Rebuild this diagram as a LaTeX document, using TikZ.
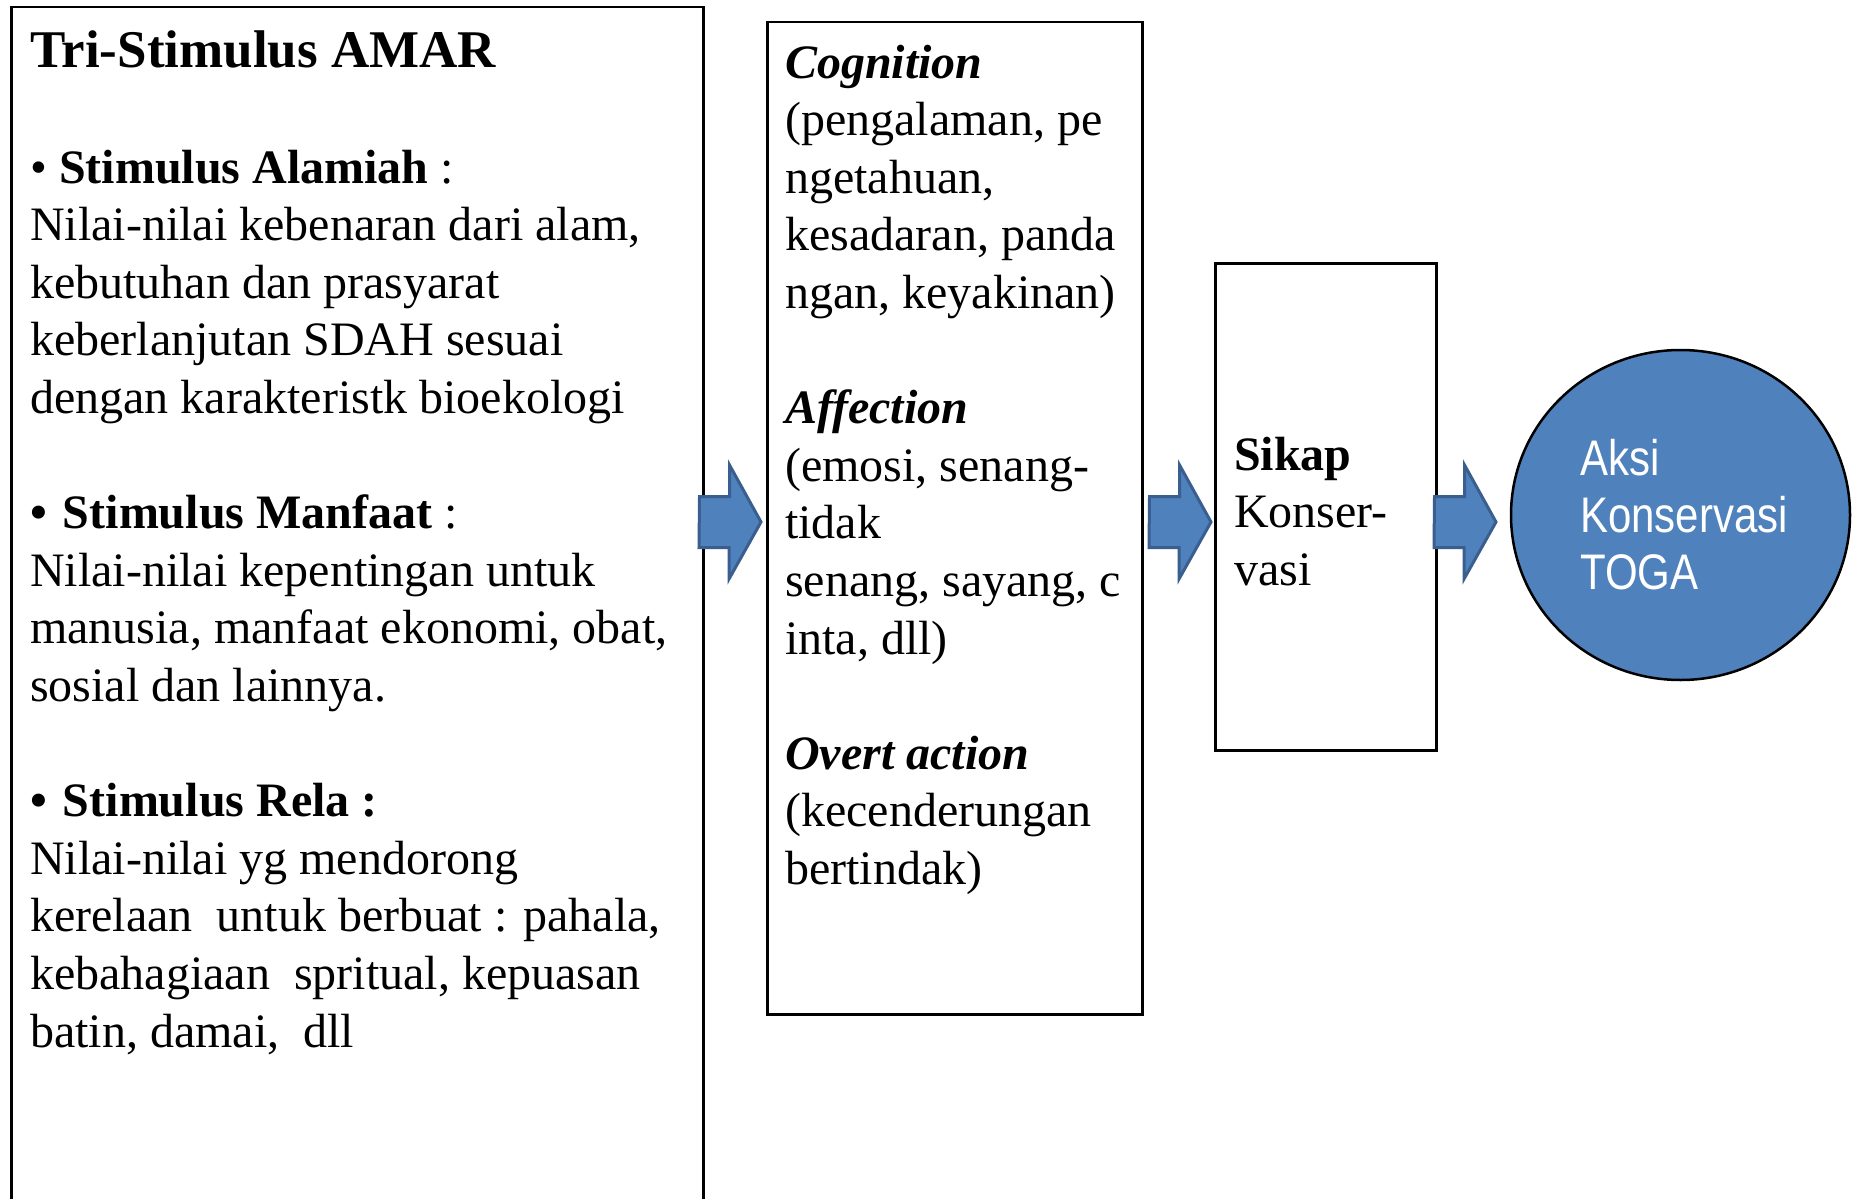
\documentclass[tikz,border=0pt]{standalone}
\usepackage{fontspec}
\setmainfont{Liberation Serif}
\newfontfamily\narrowsans[FakeStretch=0.84]{Liberation Sans}
\usetikzlibrary{shapes.geometric}
\definecolor{officeblue}{HTML}{4F81BD}
\definecolor{officeedge}{HTML}{3A5F8F}
\newcommand\bodyfont{\fontsize{48}{57.6}\selectfont}
\tikzset{
  box/.style={draw=black, line width=2.5pt, fill=white, rectangle, inner sep=0pt, anchor=north west},
  txt/.style={inner sep=0pt, anchor=base west},
  barrow/.style={fill=officeblue, draw=officeedge, line width=3pt, line join=miter},
  circ/.style={ellipse, draw=black, line width=2.5pt, fill=officeblue, inner sep=0pt}
}
\newcommand\blockarrow[2]{%
  \draw[barrow] (#1) ++(0,-25.5) -- ++(30,0) -- ++(0,-31.5) -- (#2) -- ++(-32,57) -- ++(0,-31.5) -- ++(-30,0) -- cycle;}
\begin{document}
\begin{tikzpicture}[x=1pt,y=-1pt]
\useasboundingbox[fill=white] (0,0) rectangle (1853,1199);
% boxes
\node[box, minimum width=692pt, minimum height=1220pt] (L) at (10,6) {};
\node[box, minimum width=375pt, minimum height=992pt] (M) at (766,21) {};
\node[box, minimum width=221pt, minimum height=487pt] (R) at (1214,262) {};
\node[circ, minimum width=339pt, minimum height=330pt] (C) at (1680.5,515) {};
% left texts
\node[txt] (t0) at (30,67) {\fontsize{53}{60}\selectfont\bfseries Tri-Stimulus AMAR};
\node[txt] (t1) at (30,183) {\parbox[t]{680pt}{\bodyfont •\ \textbf{Stimulus Alamiah} :\\
Nilai-nilai kebenaran dari alam,\\
kebutuhan dan prasyarat\\
keberlanjutan SDAH sesuai\\
dengan karakteristk bioekologi}};
\node[txt] (t2) at (30,528.6) {\parbox[t]{680pt}{\bodyfont \textbf{•\hspace{16pt}Stimulus Manfaat} :\\
Nilai-nilai kepentingan untuk\\
manusia, manfaat ekonomi, obat,\\
sosial dan lainnya.}};
\node[txt] (t3) at (30,816.6) {\parbox[t]{680pt}{\bodyfont \textbf{•\hspace{16pt}Stimulus Rela :}\\
Nilai-nilai yg mendorong\\
kerelaan\ \ untuk berbuat : pahala,\\
kebahagiaan\ \ spritual, kepuasan\\
batin, damai,\ \ dll}};
% middle texts
\node[txt] (m1) at (785,78) {\parbox[t]{350pt}{\bodyfont \textbf{\textit{Cognition}}\\
(pengalaman, pe\\
ngetahuan,\\
kesadaran, panda\\
ngan, keyakinan)}};
\node[txt] (m2) at (785,423.6) {\parbox[t]{350pt}{\bodyfont \textbf{\textit{Affection}}\\
(emosi, senang-\\
tidak\\
senang, sayang, c\\
inta, dll)}};
\node[txt] (m3) at (785,769.2) {\parbox[t]{350pt}{\bodyfont \textbf{\textit{Overt action}}\\
(kecenderungan\\
bertindak)}};
% right box text
\node[txt] (r1) at (1234,470) {\parbox[t]{200pt}{\bodyfont \textbf{Sikap}\\
Konser-\\
vasi}};
% circle text
\node[txt, text=white] (c1) at (1580,475) {\parbox[t]{260pt}{\narrowsans\fontsize{50}{57}\selectfont Aksi\\
Konservasi\\
TOGA}};
% block arrows
\coordinate (a1s) at (699.5,522); \coordinate (a1t) at (761,522);
\coordinate (a2s) at (1149.5,522); \coordinate (a2t) at (1211,522);
\coordinate (a3s) at (1434.5,522); \coordinate (a3t) at (1496,522);
\blockarrow{a1s}{a1t}
\blockarrow{a2s}{a2t}
\blockarrow{a3s}{a3t}
\end{tikzpicture}
\end{document}
